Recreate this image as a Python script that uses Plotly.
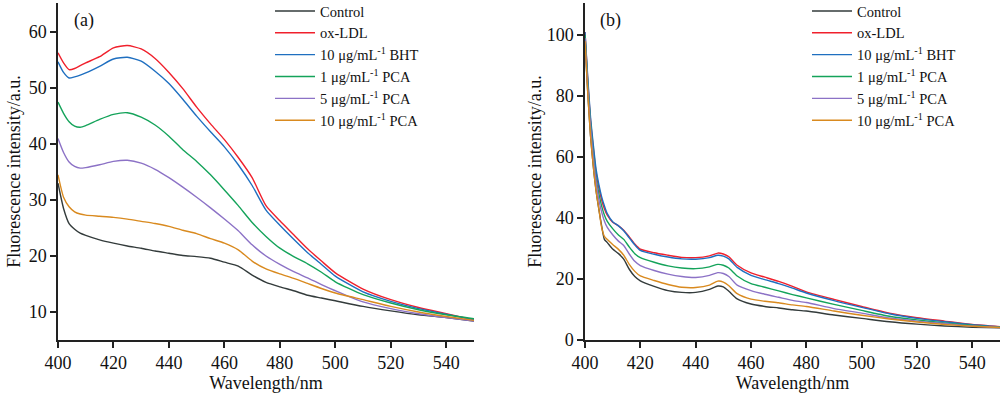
import plotly.graph_objects as go

# ---------------- data ----------------
series_names = ["Control", "ox-LDL", "10 μg/mL<sup>-1</sup> BHT",
                "1 μg/mL<sup>-1</sup> PCA", "5 μg/mL<sup>-1</sup> PCA", "10 μg/mL<sup>-1</sup> PCA"]
series_colors = ["#333b3b", "#f0202c", "#1f6fc0", "#14a35a", "#8c72c6", "#d98a1f"]

# Panel (a)
wl_a = [400, 402, 404, 406, 408, 410, 415, 420, 425, 430, 435, 440, 445, 450, 455,
        460, 465, 470, 475, 480, 485, 490, 495, 500, 510, 520, 530, 540, 550]
a_control = [33.0, 28.5, 25.8, 24.8, 24.1, 23.7, 22.9, 22.3, 21.8, 21.4, 20.9, 20.5, 20.1, 19.9, 19.6,
             18.9, 18.2, 16.6, 15.3, 14.5, 13.8, 13.0, 12.5, 12.0, 11.0, 10.2, 9.5, 9.0, 8.4]
a_oxldl = [56.3, 54.5, 53.3, 53.5, 54.0, 54.5, 55.6, 57.2, 57.6, 57.0, 55.3, 52.8, 49.9, 46.6, 43.6,
           40.8, 37.6, 34.0, 29.0, 26.3, 23.8, 21.3, 19.1, 17.0, 14.1, 12.2, 10.8, 9.7, 8.6]
a_bht = [54.7, 52.8, 51.8, 52.0, 52.3, 52.7, 53.9, 55.2, 55.5, 54.8, 53.0, 50.8, 48.0, 45.0, 42.2,
         39.5, 36.3, 32.6, 28.2, 25.5, 23.0, 20.6, 18.5, 16.4, 13.6, 11.9, 10.6, 9.6, 8.6]
a_pca1 = [47.5, 45.5, 44.0, 43.2, 43.0, 43.3, 44.4, 45.3, 45.6, 44.8, 43.4, 41.4, 39.0, 36.9, 34.5,
          31.8, 29.0, 26.0, 23.5, 21.4, 19.9, 18.6, 17.1, 15.4, 13.1, 11.6, 10.4, 9.5, 8.8]
a_pca5 = [41.0, 38.5, 36.8, 36.0, 35.7, 35.8, 36.3, 36.9, 37.1, 36.6, 35.5, 34.0, 32.3, 30.5, 28.6,
          26.6, 24.5, 22.0, 20.0, 18.5, 17.2, 16.1, 14.9, 13.8, 11.8, 10.6, 9.7, 9.0, 8.4]
a_pca10 = [34.5, 30.5, 28.8, 27.9, 27.5, 27.3, 27.1, 26.9, 26.6, 26.2, 25.8, 25.3, 24.6, 24.0, 23.1,
           22.3, 21.1, 19.1, 17.7, 16.8, 16.0, 15.1, 14.2, 13.4, 12.2, 11.0, 10.0, 9.2, 8.5]

# Panel (b)
wl_b = [400, 401, 402, 403, 404, 405, 406, 407, 408, 410, 412, 414, 416, 418, 420, 425, 430, 435,
        440, 445, 448, 450, 452, 455, 460, 465, 470, 475, 480, 490, 500, 510, 520, 530, 540, 550]
b_control = [98, 81, 67, 57, 49, 43, 37.5, 33, 32, 29.8, 28.4, 26.5, 23.2, 20.8, 19.4, 17.6, 16.2, 15.6,
             15.6, 16.6, 17.7, 17.4, 16.0, 13.5, 11.8, 11.0, 10.5, 9.9, 9.5, 8.2, 7.1, 6.0, 5.2, 4.6, 4.2, 4.0]
b_oxldl = [101, 85, 72, 63, 55, 50, 46, 43, 41, 38.6, 37.5, 36.0, 33.8, 31.5, 29.8, 28.6, 27.8, 27.1,
           27.0, 27.6, 28.5, 28.2, 27.3, 24.5, 22.0, 20.6, 19.2, 17.6, 15.8, 13.3, 11.0, 8.8, 7.3, 6.2, 5.1, 4.4]
b_bht = [101, 86, 73, 64, 56, 51, 47, 44, 41.5, 38.8, 37.5, 35.8, 33.5, 31.2, 29.4, 28.1, 27.2, 26.6,
         26.5, 27.0, 27.8, 27.5, 26.6, 23.8, 21.2, 19.8, 18.5, 17.0, 15.4, 12.9, 10.7, 8.6, 7.1, 6.0, 5.0, 4.3]
b_pca1 = [100, 84, 71, 61, 53, 48, 44, 41, 39, 36.5, 34.5, 33.0, 30.5, 28.3, 27.0, 25.5, 24.3, 23.6,
          23.4, 24.0, 24.8, 24.5, 23.6, 21.0, 18.5, 17.3, 16.1, 14.9, 13.8, 11.7, 9.7, 7.8, 6.6, 5.6, 4.8, 4.2]
b_pca5 = [99, 83, 70, 60, 52, 46, 42, 39, 37, 34.5, 32.5, 31.0, 28.2, 25.8, 24.4, 22.8, 21.6, 20.8,
          20.5, 21.2, 22.1, 21.8, 20.8, 18.0, 16.2, 15.0, 14.0, 13.0, 12.3, 10.3, 8.8, 7.2, 6.2, 5.4, 4.6, 4.1]
b_pca10 = [98, 81, 67, 57, 49, 43, 37, 34, 33, 31.3, 29.8, 27.8, 24.8, 22.5, 21.0, 19.5, 18.2, 17.3,
           17.2, 18.0, 19.3, 19.0, 17.8, 15.2, 13.4, 12.7, 12.2, 11.5, 11.0, 9.5, 8.1, 6.9, 5.9, 5.1, 4.5, 4.1]

x_ticks = [400, 420, 440, 460, 480, 500, 520, 540]
y_ticks_a = [10, 20, 30, 40, 50, 60]
y_ticks_b = [0, 20, 40, 60, 80, 100]

panel_a = [a_control, a_oxldl, a_bht, a_pca1, a_pca5, a_pca10]
panel_b = [b_control, b_oxldl, b_bht, b_pca1, b_pca5, b_pca10]

# ---------------- figure ----------------
FONT = "Liberation Serif, Times New Roman, serif"
W, H = 1000, 394
fig = go.Figure()

for name, color, ys in zip(series_names, series_colors, panel_a):
    fig.add_trace(go.Scatter(x=wl_a, y=ys, mode="lines", name=name,
                             line=dict(color=color, width=1.4, shape="spline", smoothing=0.6),
                             xaxis="x", yaxis="y", legend="legend"))
for name, color, ys in zip(series_names, series_colors, panel_b):
    fig.add_trace(go.Scatter(x=wl_b, y=ys, mode="lines", name=name,
                             line=dict(color=color, width=1.4, shape="spline", smoothing=0.6),
                             xaxis="x2", yaxis="y2", legend="legend2"))

axis_common = dict(showline=True, linecolor="#222", linewidth=1.5, ticks="outside",
                   ticklen=6, tickwidth=1.5, tickcolor="#222", showgrid=False, zeroline=False,
                   automargin=False,
                   tickfont=dict(family=FONT, size=18, color="#111"))

ydom = [54 / H, 391 / H]
fig.update_layout(
    width=W, height=H,
    margin=dict(l=0, r=0, t=0, b=0, autoexpand=False),
    plot_bgcolor="white", paper_bgcolor="white",
    font=dict(family=FONT, color="#111"),
    xaxis=dict(domain=[58 / W, 474 / W], range=[400, 550], tickvals=x_ticks,
               anchor="y", title=dict(text="Wavelength/nm", font=dict(family=FONT, size=18), standoff=4),
               **axis_common),
    yaxis=dict(domain=ydom, range=[5, 65.2], tickvals=y_ticks_a, anchor="x",
               title=dict(text="Fluorescence intensity/a.u.", font=dict(family=FONT, size=18), standoff=3),
               **axis_common),
    xaxis2=dict(domain=[585 / W, 1.0], range=[400, 550], tickvals=x_ticks,
                anchor="y2", title=dict(text="Wavelength/nm", font=dict(family=FONT, size=18), standoff=4),
                **axis_common),
    yaxis2=dict(domain=ydom, range=[0, 110.5], tickvals=y_ticks_b, anchor="x2",
                title=dict(text="Fluorescence intensity/a.u.", font=dict(family=FONT, size=18), standoff=0),
                **axis_common),
    legend=dict(x=270 / W, y=1 + 5 / H, xanchor="left", yanchor="top", bgcolor="rgba(0,0,0,0)",
                font=dict(family=FONT, size=14.5, color="#111"), itemwidth=40, tracegroupgap=0),
    legend2=dict(x=807 / W, y=1 + 5 / H, xanchor="left", yanchor="top", bgcolor="rgba(0,0,0,0)",
                 font=dict(family=FONT, size=14.5, color="#111"), itemwidth=40, tracegroupgap=0),
    annotations=[
        dict(text="(a)", x=72 / W, y=1 - 21 / H, xref="paper", yref="paper",
             showarrow=False, font=dict(family=FONT, size=18, color="#111"),
             xanchor="left", yanchor="middle"),
        dict(text="(b)", x=598 / W, y=1 - 20 / H, xref="paper", yref="paper",
             showarrow=False, font=dict(family=FONT, size=18, color="#111"),
             xanchor="left", yanchor="middle"),
    ],
)

fig.write_html("out.html", config={"displayModeBar": False},
               post_script="document.body.style.margin='0';document.body.style.overflow='hidden';")
